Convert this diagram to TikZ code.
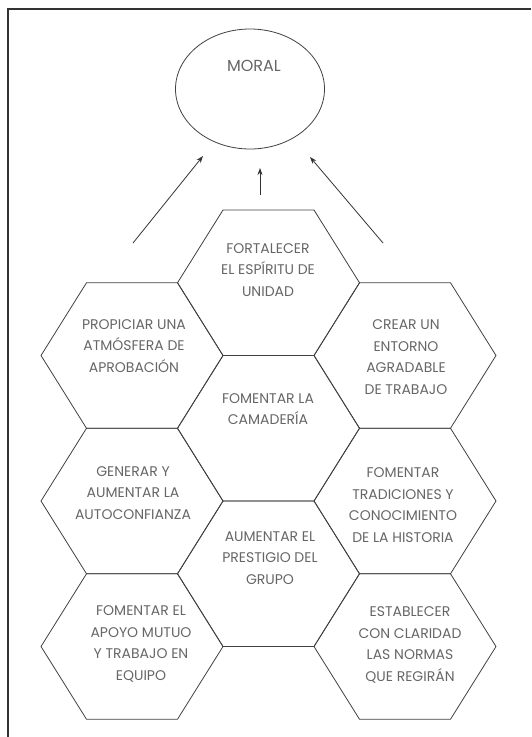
\documentclass[tikz,border=0pt]{standalone}
\usepackage{fontspec}
\setmainfont{Poppins}
\usetikzlibrary{arrows.meta,shapes.geometric}
\tikzset{
  hexedge/.style={draw=black!75, line width=0.8pt, line join=miter},
  lbl/.style={font=\fontsize{14}{21.5}\selectfont, text=black!60, align=center, inner sep=0pt},
  moraltext/.style={font=\fontsize{16}{20}\selectfont, text=black!60, inner sep=0pt},
  arr/.style={draw=black!80, line width=0.8pt, -{Stealth[length=7pt,width=5pt]}},
  frameline/.style={draw=black!80, line width=1.5pt}
}
\newcommand\myhex[1]{\draw[hexedge] (#1) +(-91,0) -- +(-45.5,-72.75) -- +(45.5,-72.75) -- +(91,0) -- +(45.5,72.75) -- +(-45.5,72.75) -- cycle;}
\begin{document}
\begin{tikzpicture}[x=1pt,y=-1pt]
\useasboundingbox (0,0) rectangle (531,737);
% frame (cropped: only top and left visible)
\coordinate (fbl) at (8,737);
\coordinate (ftl) at (8,9);
\coordinate (ftr) at (531,9);
\draw[frameline] (fbl) -- (ftl) -- (ftr);
% ellipse
\node[ellipse, draw=black!75, line width=0.8pt, minimum width=149pt, minimum height=120pt, inner sep=0pt] (moral) at (250,89) {};
\node[moraltext] (moraltxt) at (254,66) {MORAL};
% hexagon centres
\coordinate (C1) at (268.5,282.75);
\coordinate (C2) at (268.5,428.25);
\coordinate (C3) at (268.5,573.75);
\coordinate (L1) at (132,355.5);
\coordinate (L2) at (132,501);
\coordinate (L3) at (132,646.5);
\coordinate (R1) at (405,355.5);
\coordinate (R2) at (405,501);
\coordinate (R3) at (405,646.5);
\myhex{C1}\myhex{C2}\myhex{C3}
\myhex{L1}\myhex{L2}\myhex{L3}
\myhex{R1}\myhex{R2}\myhex{R3}
% texts
\node[lbl] (t1) at (268,270) {FORTALECER\\EL ESPÍRITU DE\\UNIDAD};
\node[lbl] (t2) at (134,346) {PROPICIAR UNA\\ATMÓSFERA DE\\APROBACIÓN};
\node[lbl] (t3) at (406,357) {CREAR UN\\ENTORNO\\AGRADABLE\\DE TRABAJO};
\node[lbl] (t4) at (268,409) {FOMENTAR LA\\CAMADERÍA};
\node[lbl] (t5) at (133,493) {GENERAR Y\\AUMENTAR LA\\AUTOCONFIANZA};
\node[lbl] (t6) at (403,505) {FOMENTAR\\TRADICIONES Y\\CONOCIMIENTO\\DE LA HISTORIA};
\node[lbl] (t7) at (270,558) {AUMENTAR EL\\PRESTIGIO DEL\\GRUPO};
\node[lbl] (t8) at (141,644) {FOMENTAR EL\\APOYO MUTUO\\Y TRABAJO EN\\EQUIPO};
\node[lbl] (t9) at (410,645) {ESTABLECER\\CON CLARIDAD\\LAS NORMAS\\QUE REGIRÁN};
% arrows
\coordinate (a1s) at (133,243);
\coordinate (a1e) at (203,156);
\coordinate (a2s) at (260,195);
\coordinate (a2e) at (260,168);
\coordinate (a3s) at (383,243);
\coordinate (a3e) at (310,157);
\draw[arr] (a1s) -- (a1e);
\draw[arr] (a2s) -- (a2e);
\draw[arr] (a3s) -- (a3e);
\end{tikzpicture}
\end{document}
